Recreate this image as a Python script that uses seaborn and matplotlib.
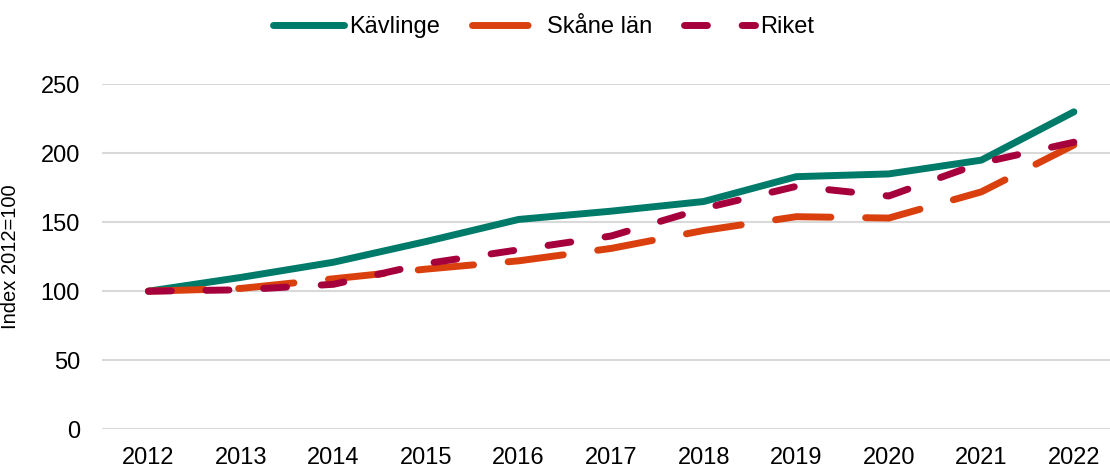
import numpy as np
import pandas as pd
import matplotlib.pyplot as plt
import seaborn as sns

years = list(range(2012, 2023))
kavlinge = [100, 110, 121, 136, 152, 158, 165, 183, 185, 195, 230]
skane = [100, 102, 109, 116, 122, 131, 144, 154, 153, 172, 206]
riket = [100, 101, 105, 120, 130, 140, 160, 176, 169, 193, 208]
series = ["Kävlinge", "Skåne län", "Riket"]
colors = ["#007A69", "#D9400E", "#A6003C"]

df = pd.DataFrame({
    "year": years * 3,
    "value": kavlinge + skane + riket,
    "area": [series[0]] * 11 + [series[1]] * 11 + [series[2]] * 11,
})

sns.set_style("white", {"text.color": "black", "axes.labelcolor": "black",
                        "xtick.color": "black", "ytick.color": "black"})
plt.rcParams['font.family'] = ['Liberation Sans', 'DejaVu Sans']

fig = plt.figure(figsize=(11.1, 4.68), dpi=100)
ax = fig.add_axes([0.092, 0.083, 0.908, 0.737])

sns.lineplot(data=df, x="year", y="value", hue="area", style="area",
             palette=dict(zip(series, colors)),
             dashes={series[0]: "", series[1]: (8, 5), series[2]: (3.3, 5)},
             linewidth=5, legend=False, ax=ax)
for ln in ax.get_lines():
    ln.set_solid_capstyle("round")
    ln.set_dash_capstyle("round")
    ln.set_clip_on(False)

ax.set_xlim(2011.5, 2022.39)
ax.set_ylim(0, 250)
ax.set_yticks(range(0, 251, 50))
ax.set_xticks(years)
ax.tick_params(axis="both", labelsize=17, length=0, labelcolor="black")
ax.tick_params(axis="x", pad=13)
ax.tick_params(axis="y", pad=16)
ax.grid(axis="y", color="#D9D9D9", linewidth=1.5)
ax.set_axisbelow(True)
for s in ax.spines.values():
    s.set_visible(False)
ax.set_xlabel("")
ax.set_ylabel("Index 2012=100", fontsize=14.5, color="black")
ax.yaxis.set_label_coords(-0.081, 0.5)

leg = ax.legend(ax.get_lines()[:3], series, loc="center", bbox_to_anchor=(0.438, 1.166),
                ncol=3, frameon=False, fontsize=17, handlelength=3.0,
                handletextpad=0.2, columnspacing=1.35)
for t in leg.get_texts():
    t.set_color("black")

fig.savefig("out.png", dpi=100)
